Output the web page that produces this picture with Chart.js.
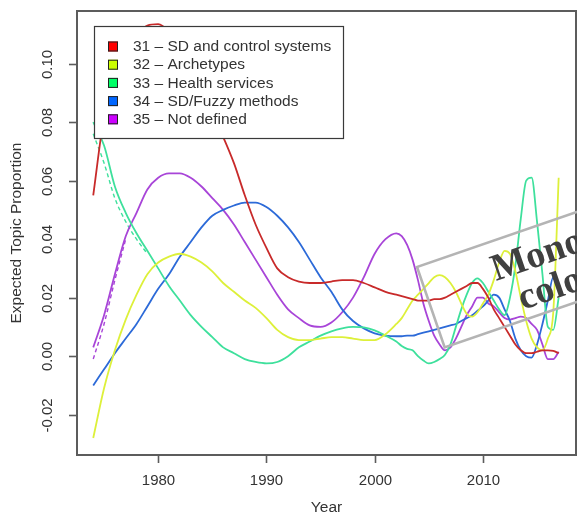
<!DOCTYPE html>
<html>
<head>
<meta charset="utf-8">
<script src="https://cdn.jsdelivr.net/npm/chart.js@4/dist/chart.umd.min.js"></script>
<style>
  html, body { margin: 0; padding: 0; background: #fff; }
  #wrap { width: 577px; height: 523px; }
</style>
</head>
<body>
<div id="wrap"><canvas id="c" width="577" height="523"></canvas></div>
<script>
// Years of the smoothed topic curves (yearly, then half-yearly from 2002)
const years = [
  1974, 1975, 1976, 1977, 1978, 1979, 1980, 1981, 1982, 1983,
  1984, 1985, 1986, 1987, 1988, 1989, 1990, 1991, 1992, 1993,
  1994, 1995, 1996, 1997, 1998, 1999, 2000, 2001,
  2002, 2002.5, 2003, 2003.5, 2004, 2004.5, 2005, 2005.5, 2006, 2006.5,
  2007, 2007.5, 2008, 2008.5, 2009, 2009.5, 2010, 2010.5, 2011, 2011.5,
  2012, 2012.5, 2013, 2013.5, 2014, 2014.5, 2015, 2015.5, 2016, 2016.5, 2017
];

const topicLabels = [
  '31 \u2013 SD and control systems',
  '32 \u2013 Archetypes',
  '33 \u2013 Health services',
  '34 \u2013 SD/Fuzzy methods',
  '35 \u2013 Not defined'
];

// Expected topic proportion per topic
const sdControl = [
  0.055, 0.082, 0.096, 0.105, 0.110, 0.113, 0.1135, 0.111, 0.106, 0.099,
  0.091, 0.083, 0.075, 0.066, 0.055, 0.045, 0.037, 0.030, 0.027, 0.0255,
  0.025, 0.025, 0.0255, 0.026, 0.026, 0.025, 0.0235, 0.022,
  0.021, 0.0205, 0.020, 0.0195, 0.019, 0.019, 0.019, 0.0195, 0.0195, 0.020,
  0.021, 0.022, 0.023, 0.024, 0.025, 0.025, 0.023, 0.020, 0.016, 0.013,
  0.010, 0.007, 0.004, 0.002, 0.001, 0.001, 0.0015, 0.002, 0.002, 0.0018, 0.001
];
const archetypes = [
  -0.028, -0.011, 0.002, 0.0125, 0.021, 0.028, 0.032, 0.034, 0.035, 0.034,
  0.032, 0.029, 0.025, 0.022, 0.019, 0.0165, 0.013, 0.009, 0.0065, 0.0055,
  0.0055, 0.006, 0.0065, 0.0065, 0.006, 0.0055, 0.0055, 0.0075,
  0.011, 0.013, 0.016, 0.019, 0.021, 0.023, 0.025, 0.027, 0.0277, 0.027,
  0.025, 0.022, 0.018, 0.0145, 0.0135, 0.015, 0.018, 0.021, 0.026, 0.032,
  0.036, 0.035, 0.029, 0.020, 0.012, 0.006, 0.003, 0.002, 0.006, 0.015, 0.061
];
const healthServices = [
  0.080, 0.072, 0.058, 0.049, 0.042, 0.036, 0.030, 0.024, 0.019, 0.014,
  0.010, 0.0065, 0.003, 0.001, -0.001, -0.002, -0.0025, -0.002, 0.0, 0.003,
  0.005, 0.007, 0.0085, 0.0095, 0.010, 0.0098, 0.0088, 0.007,
  0.005, 0.0035, 0.0025, 0.002, 0.0, -0.0015, -0.0025, -0.002, -0.001, 0.0005,
  0.004, 0.010, 0.016, 0.021, 0.025, 0.0266, 0.025, 0.022, 0.019, 0.016,
  0.014, 0.020, 0.031, 0.047, 0.060, 0.061, 0.046, 0.028, 0.010, 0.009, 0.020
];
const fuzzyMethods = [
  -0.010, -0.0045, 0.001, 0.006, 0.011, 0.017, 0.023, 0.028, 0.034, 0.039,
  0.044, 0.048, 0.050, 0.0515, 0.0525, 0.0525, 0.051, 0.048, 0.044, 0.039,
  0.033, 0.027, 0.022, 0.016, 0.012, 0.0095, 0.0078, 0.007,
  0.0068, 0.0068, 0.007, 0.007, 0.0075, 0.008, 0.0085, 0.009, 0.0095, 0.010,
  0.0105, 0.011, 0.012, 0.013, 0.014, 0.0155, 0.017, 0.019, 0.021, 0.020,
  0.016, 0.012, 0.006, 0.002, 0.0, -0.0005, 0.004, 0.011, 0.019, 0.027, 0.024
];
const notDefined = [
  0.003, 0.014, 0.028, 0.041, 0.049, 0.057, 0.061, 0.0625, 0.0625, 0.061,
  0.058, 0.054, 0.050, 0.045, 0.039, 0.033, 0.027, 0.021, 0.016, 0.013,
  0.0105, 0.010, 0.0115, 0.015, 0.020, 0.027, 0.035, 0.040,
  0.042, 0.041, 0.038, 0.033, 0.026, 0.018, 0.012, 0.007, 0.004, 0.002,
  0.003, 0.006, 0.010, 0.014, 0.017, 0.020, 0.020, 0.018, 0.017, 0.015,
  0.013, 0.0125, 0.013, 0.0135, 0.013, 0.011, 0.009, 0.004, -0.001, -0.001, 0.0015
];

// Companion (dashed) estimates where they part from the main curves
const earlyYears = [1974, 1975, 1976, 1977, 1978, 1979];
const healthServicesAlt = [0.076, 0.066, 0.054, 0.046, 0.040, 0.035];
const notDefinedAlt = [-0.001, 0.011, 0.026, 0.040];

const xTicks = [1980, 1990, 2000, 2010];
const xTickLabels = ['1980', '1990', '2000', '2010'];
const yTicks = [-0.02, 0.0, 0.02, 0.04, 0.06, 0.08, 0.10];
const yTickLabels = ['-0.02', '0.00', '0.02', '0.04', '0.06', '0.08', '0.10'];

const legendColors = ['#FF0000', '#CCFF00', '#00FF66', '#0066FF', '#CC00FF'];
const lineColors = ['#C82A2A', '#DDF03A', '#3EE09C', '#2C6AD8', '#A845D8'];

const seriesValues = [sdControl, archetypes, healthServices, fuzzyMethods, notDefined];

const toPoints = (xs, ys) => ys.map((v, i) => ({ x: xs[i], y: v }));

const datasets = seriesValues.map((vals, i) => ({
  label: topicLabels[i],
  data: toPoints(years, vals),
  borderColor: lineColors[i],
  borderWidth: 1.8,
  pointRadius: 0,
  fill: false,
  cubicInterpolationMode: 'monotone'
}));
datasets.push({
  label: 'alt-33',
  data: toPoints(earlyYears, healthServicesAlt),
  borderColor: lineColors[2],
  borderWidth: 1.4,
  borderDash: [4, 3],
  pointRadius: 0,
  fill: false,
  cubicInterpolationMode: 'monotone'
});
datasets.push({
  label: 'alt-35',
  data: toPoints(earlyYears, notDefinedAlt),
  borderColor: lineColors[4],
  borderWidth: 1.4,
  borderDash: [4, 3],
  pointRadius: 0,
  fill: false,
  cubicInterpolationMode: 'monotone'
});

const SANS = '"Liberation Sans", Arial, Helvetica, sans-serif';

// Frame, axes, legend and the stamped note drawn over the plot
const decorations = {
  id: 'decorations',
  afterDatasetsDraw(chart) {
    const { ctx, chartArea: a, scales } = chart;
    const xs = scales.x, ys = scales.y;
    ctx.save();

    // plot box
    ctx.strokeStyle = '#5c5c5c';
    ctx.lineWidth = 2;
    ctx.strokeRect(a.left, a.top, a.right - a.left, a.bottom - a.top);

    // x axis ticks and labels
    ctx.fillStyle = '#333';
    ctx.font = '15px ' + SANS;
    ctx.textAlign = 'center';
    ctx.textBaseline = 'middle';
    ctx.lineWidth = 1.6;
    xTicks.forEach((t, i) => {
      const px = Math.round(xs.getPixelForValue(t)) + 0.5;
      ctx.beginPath();
      ctx.moveTo(px, a.bottom);
      ctx.lineTo(px, a.bottom + 8);
      ctx.stroke();
      ctx.fillText(xTickLabels[i], px, 481);
    });

    // y axis ticks and labels (rotated, parallel to the axis)
    yTicks.forEach((t, i) => {
      const py = Math.round(ys.getPixelForValue(t)) + 0.5;
      ctx.beginPath();
      ctx.moveTo(a.left - 8, py);
      ctx.lineTo(a.left, py);
      ctx.stroke();
      ctx.save();
      ctx.translate(48, py);
      ctx.rotate(-Math.PI / 2);
      ctx.fillText(yTickLabels[i], 0, 0);
      ctx.restore();
    });

    // axis titles
    ctx.font = '15.5px ' + SANS;
    ctx.fillText('Year', (a.left + a.right) / 2, 508);
    ctx.save();
    ctx.translate(17, (a.top + a.bottom) / 2);
    ctx.rotate(-Math.PI / 2);
    ctx.fillText('Expected Topic Proportion', 0, 0);
    ctx.restore();

    // legend
    const lx = 94, ly = 26, lw = 249, lh = 112;
    ctx.fillStyle = '#fff';
    ctx.fillRect(lx, ly, lw, lh);
    ctx.strokeStyle = '#3a3a3a';
    ctx.lineWidth = 1.2;
    ctx.strokeRect(lx + 0.5, ly + 0.5, lw, lh);
    ctx.textAlign = 'left';
    ctx.font = '15.5px ' + SANS;
    topicLabels.forEach((lab, i) => {
      const cy = 46.5 + i * 18.2;
      ctx.fillStyle = legendColors[i];
      ctx.fillRect(108, cy - 5, 10, 10);
      ctx.strokeStyle = '#222';
      ctx.lineWidth = 1;
      ctx.strokeRect(108 + 0.5, cy - 5 + 0.5, 9, 9);
      ctx.fillStyle = '#333';
      ctx.fillText(lab, 133, cy + 0.5);
    });

    // stamped note, tilted across the lower right
    ctx.save();
    ctx.translate(417, 267);
    ctx.rotate(-19 * Math.PI / 180);
    ctx.strokeStyle = '#b4b4b4';
    ctx.lineWidth = 2.6;
    ctx.strokeRect(0, 0, 260, 85);
    ctx.fillStyle = '#404040';
    ctx.font = 'bold 38px "Liberation Serif", "Times New Roman", serif';
    ctx.textAlign = 'left';
    ctx.textBaseline = 'alphabetic';
    ctx.fillText('Mono', 70, 39);
    ctx.fillText('colo', 86, 75);
    ctx.restore();

    ctx.restore();
  }
};

new Chart(document.getElementById('c'), {
  type: 'line',
  data: { datasets },
  options: {
    responsive: false,
    animation: false,
    devicePixelRatio: 1,
    layout: { padding: { left: 77, right: 1, top: 11, bottom: 68 } },
    plugins: {
      legend: { display: false },
      tooltip: { enabled: false }
    },
    scales: {
      x: { type: 'linear', min: 1972.5, max: 2018.6, display: false },
      y: { type: 'linear', min: -0.0338, max: 0.118, display: false }
    }
  },
  plugins: [decorations]
});
</script>
</body>
</html>
